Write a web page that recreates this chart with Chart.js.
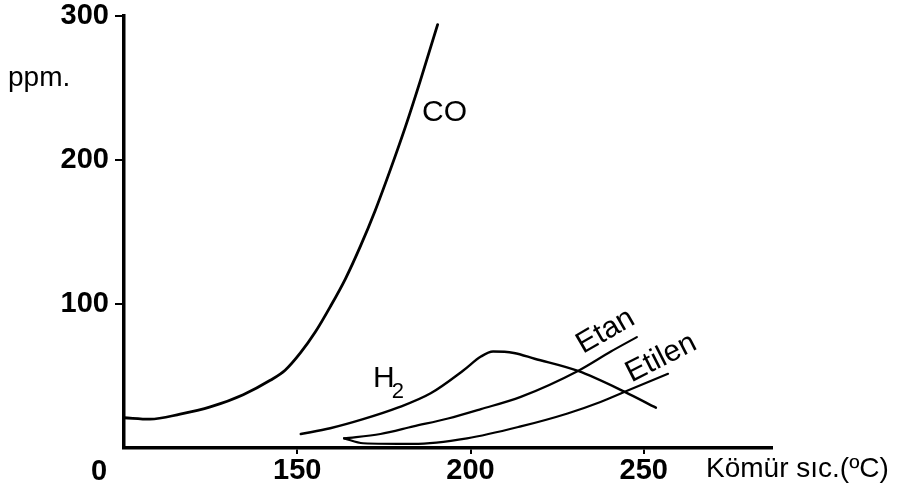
<!DOCTYPE html>
<html>
<head>
<meta charset="utf-8">
<script src="https://cdn.jsdelivr.net/npm/chart.js@4/dist/chart.umd.min.js"></script>
<style>
  html, body { margin: 0; padding: 0; background: #fff; }
</style>
</head>
<body>
<canvas id="graf_gaz" width="898" height="494"></canvas>
<script>
// Kömür sıcaklığı (ºC) ve gaz derişimleri (ppm)
var coSic   = [100, 107.5, 116.2, 124.9, 134.4, 142.2, 146.5, 150.9, 155.2, 159.5, 163.9, 168.2, 172.5, 176.9, 181.2, 185.5, 190.5];
var coPpm   = [21, 20, 23.5, 28.5, 37, 47, 54, 66, 80.5, 98, 117.5, 140, 165, 193.5, 223, 255, 294];

var h2Sic   = [151, 159.5, 169, 179, 188.5, 198, 203, 206.5, 212.5, 218.5, 231, 244.5, 253.5];
var h2Ppm   = [9.7, 13.7, 20, 28, 38, 54, 63.5, 67, 66, 62, 53.5, 39, 28];

var etanSic = [163.5, 174, 183.5, 193.5, 203, 214.5, 231, 240.5, 248];
var etanPpm = [6.7, 9.7, 15, 20.5, 27, 35.5, 53.5, 67, 77];

var etilenSic = [163.5, 169, 183.5, 199, 214.5, 228, 237.5, 244.5, 257];
var etilenPpm = [6.7, 3.3, 2.8, 6.7, 15, 24, 32, 39, 51.5];

var xTicks = [150, 200, 250];
var yTicks = [0, 100, 200, 300];

var xEksenAdi = 'Kömür sıc.(ºC)';
var yEksenAdi = 'ppm.';

// eğri adları: metin, sıcaklık, ppm, açı (derece)
var egriAdlari = [
  ['CO', 192.5, 233, 0],
  ['Etan', 239, 81, -30],
  ['Etilen', 255, 62.5, -27]
];

var yaziTipi = "'Liberation Sans Narrow', 'Liberation Sans', sans-serif";

function noktalar(xs, ys) {
  return xs.map(function (x, i) { return { x: x, y: ys[i] }; });
}

function seri(ad, xs, ys, kalinlik) {
  return {
    label: ad,
    data: noktalar(xs, ys),
    borderColor: '#000',
    borderWidth: kalinlik,
    fill: false,
    pointRadius: 0,
    cubicInterpolationMode: 'monotone',
    borderCapStyle: 'round'
  };
}

// Eksen adları, orijindeki 0 ve eğri adları
var yazilar = {
  id: 'yazilar',
  afterDraw: function (chart) {
    var ctx = chart.ctx;
    var sx = chart.scales.x, sy = chart.scales.y, a = chart.chartArea;
    ctx.save();
    ctx.fillStyle = '#000';
    ctx.textBaseline = 'middle';

    ctx.font = '28px ' + yaziTipi;
    ctx.textAlign = 'left';
    ctx.fillText(yEksenAdi, 8, 78);
    ctx.fillText(xEksenAdi, a.right - 66, a.bottom + 21);

    ctx.font = 'bold 29px ' + yaziTipi;
    ctx.textAlign = 'center';
    ctx.fillText('0', a.left - 25, a.bottom + 24);

    ctx.font = '30px ' + yaziTipi;
    egriAdlari.forEach(function (e) {
      ctx.save();
      ctx.translate(sx.getPixelForValue(e[1]), sy.getPixelForValue(e[2]));
      ctx.rotate(e[3] * Math.PI / 180);
      ctx.fillText(e[0], 0, 0);
      ctx.restore();
    });

    // H ve alt indis 2
    var hx = sx.getPixelForValue(175), hy = sy.getPixelForValue(48);
    ctx.font = '30px ' + yaziTipi;
    ctx.fillText('H', hx, hy);
    ctx.font = '22px ' + yaziTipi;
    ctx.fillText('2', hx + 14, hy + 13);
    ctx.restore();
  }
};

var ctx = document.getElementById('graf_gaz').getContext('2d');

var grafGaz = new Chart(ctx, {
  type: 'line',
  data: {
    datasets: [
      seri('CO', coSic, coPpm, 2.8),
      seri('H2', h2Sic, h2Ppm, 2.4),
      seri('Etan', etanSic, etanPpm, 2.2),
      seri('Etilen', etilenSic, etilenPpm, 2.2)
    ]
  },
  options: {
    responsive: false,
    animation: false,
    devicePixelRatio: 1,
    layout: { padding: { left: 0, right: 126, top: 16, bottom: 0 } },
    plugins: {
      legend: { display: false },
      tooltip: { enabled: false }
    },
    scales: {
      x: {
        type: 'linear',
        min: 100,
        max: 287,
        afterBuildTicks: function (s) { s.ticks = xTicks.map(function (v) { return { value: v }; }); },
        afterFit: function (s) { s.height = 46; s.paddingLeft = 0; s.paddingRight = 0; },
        border: { color: '#000', width: 3.5 },
        grid: { drawOnChartArea: false, drawTicks: true, tickLength: 6, color: '#000', lineWidth: 2 },
        ticks: { color: '#000', padding: 0, maxRotation: 0, font: { family: yaziTipi, size: 29, weight: 'bold' } }
      },
      y: {
        min: 0,
        max: 300,
        afterBuildTicks: function (s) { s.ticks = yTicks.map(function (v) { return { value: v }; }); },
        afterFit: function (s) { s.width = 124; s.paddingTop = 0; s.paddingBottom = 0; },
        border: { color: '#000', width: 3.5 },
        grid: {
          drawOnChartArea: false,
          drawTicks: true,
          tickLength: 9,
          color: function (c) { return c.tick && c.tick.value === 0 ? 'rgba(0,0,0,0)' : '#000'; },
          lineWidth: 2
        },
        ticks: {
          color: '#000',
          padding: 6,
          font: { family: yaziTipi, size: 29, weight: 'bold' },
          callback: function (v) { return v === 0 ? '' : v; }
        }
      }
    }
  },
  plugins: [yazilar]
});
</script>
</body>
</html>
